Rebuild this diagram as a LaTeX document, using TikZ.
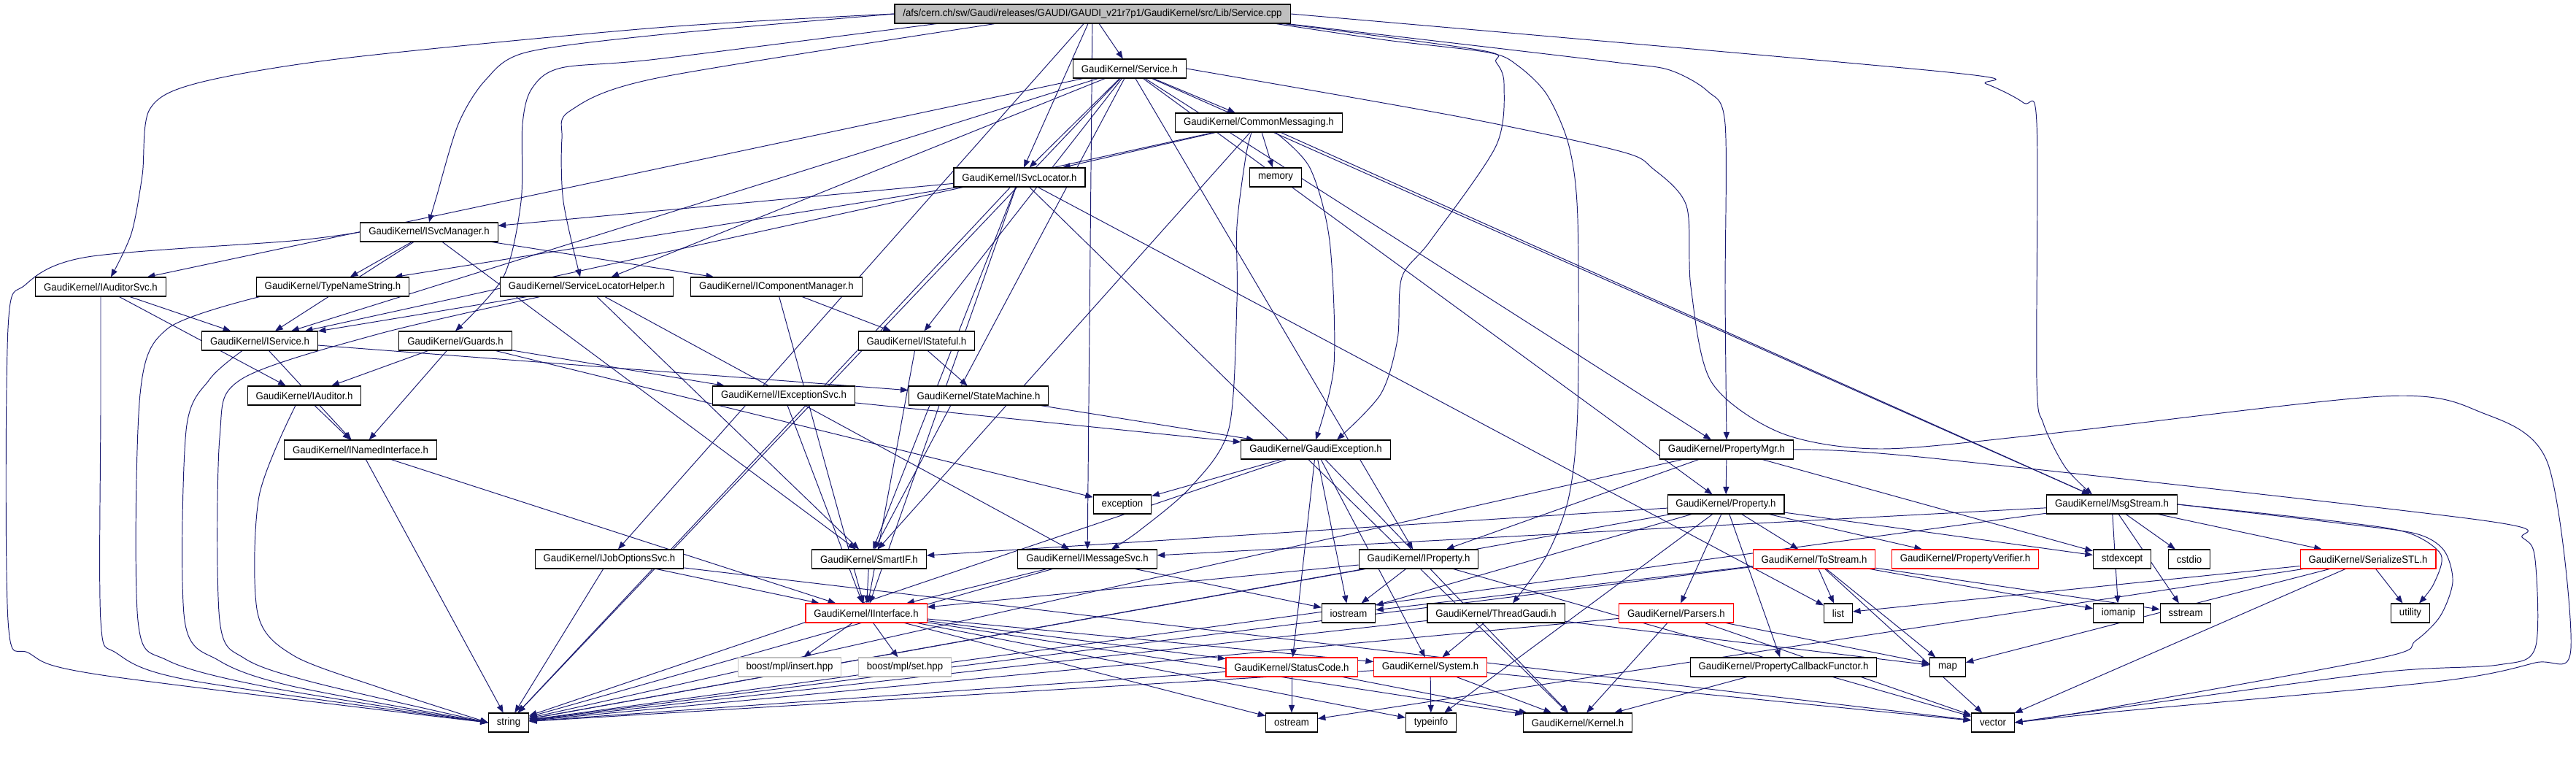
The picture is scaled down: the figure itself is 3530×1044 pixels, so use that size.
\documentclass[tikz,border=0pt]{standalone}
\usepackage{fontspec}
\setmainfont{Liberation Sans}[FakeStretch=0.94]
\usetikzlibrary{arrows.meta,calc,backgrounds}
\definecolor{depblue}{HTML}{191970}
\definecolor{rootgray}{HTML}{BFBFBF}

\begin{document}
\begin{tikzpicture}[
    x=0.02cm, y=-0.02cm,
    font=\fontsize{8}{9}\selectfont,
    % Node styles
    file/.style={draw=black, line width=0.6pt, fill=white, inner xsep=6.5pt, inner ysep=0pt, minimum height=14.8pt},
    rootfile/.style={file, fill=rootgray},
    trunc/.style={file, draw=red},
    ext/.style={file, draw=rootgray},
    dep/.style={draw=depblue, line width=0.55pt, -{Triangle[length=6pt,width=4.6pt]}},
]
    \useasboundingbox (0,0) rectangle (3530,1044);

    % Top rows
    \node[rootfile] (R) at (1497,19) {/afs/cern.ch/sw/Gaudi/releases/GAUDI/GAUDI\_v21r7p1/GaudiKernel/src/Lib/Service.cpp};
    \node[file] (S) at (1548,94) {GaudiKernel/Service.h};
    \node[file] (CM) at (1725,168) {GaudiKernel/CommonMessaging.h};
    \node[file] (SL) at (1397,243) {GaudiKernel/ISvcLocator.h};
    \node[file] (MEM) at (1748,243) {memory};
    \node[file] (SM) at (588,318) {GaudiKernel/ISvcManager.h};
    \node[file] (AS) at (138,393) {GaudiKernel/IAuditorSvc.h};
    \node[file] (TN) at (456,393) {GaudiKernel/TypeNameString.h};
    \node[file] (SLH) at (804,393) {GaudiKernel/ServiceLocatorHelper.h};
    \node[file] (CMG) at (1064,393) {GaudiKernel/IComponentManager.h};
    \node[file] (ISV) at (356,467) {GaudiKernel/IService.h};
    \node[file] (GD) at (624,467) {GaudiKernel/Guards.h};
    \node[file] (ST) at (1256,467) {GaudiKernel/IStateful.h};
    \node[file] (AU) at (417,542) {GaudiKernel/IAuditor.h};
    \node[file] (ES) at (1074,542) {GaudiKernel/IExceptionSvc.h};
    \node[file] (SMC) at (1341,542) {GaudiKernel/StateMachine.h};
    \node[file] (NI) at (494,616) {GaudiKernel/INamedInterface.h};
    \node[file] (GE) at (1803,616) {GaudiKernel/GaudiException.h};
    \node[file] (PM) at (2366,616) {GaudiKernel/PropertyMgr.h};
    \node[file] (EXC) at (1538,691) {exception};
    \node[file] (PR) at (2365,691) {GaudiKernel/Property.h};
    \node[file] (MS) at (2894,691) {GaudiKernel/MsgStream.h};

    % Middle rows
    \node[file] (JO) at (835,766) {GaudiKernel/IJobOptionsSvc.h};
    \node[file] (SIF) at (1191,766) {GaudiKernel/SmartIF.h};
    \node[file] (MSV) at (1490,766) {GaudiKernel/IMessageSvc.h};
    \node[file] (IPR) at (1944,766) {GaudiKernel/IProperty.h};
    \node[trunc] (TS) at (2486,766) {GaudiKernel/ToStream.h};
    \node[trunc] (PV) at (2693,766) {GaudiKernel/PropertyVerifier.h};
    \node[file] (SDE) at (2908,766) {stdexcept};
    \node[file] (CSD) at (3000,766) {cstdio};
    \node[trunc] (SER) at (3245,766) {GaudiKernel/SerializeSTL.h};
    \node[trunc] (II) at (1187,840) {GaudiKernel/IInterface.h};
    \node[file] (IOS) at (1848,840) {iostream};
    \node[file] (TG) at (2050,840) {GaudiKernel/ThreadGaudi.h};
    \node[trunc] (PAR) at (2297,840) {GaudiKernel/Parsers.h};
    \node[file] (LST) at (2519,840) {list};
    \node[file] (IOM) at (2903,840) {iomanip};
    \node[file] (SST) at (2995,840) {sstream};
    \node[file] (UTL) at (3303,840) {utility};

    % Bottom rows
    \node[ext] (BI) at (1082,914) {boost/mpl/insert.hpp};
    \node[ext] (BS) at (1240,914) {boost/mpl/set.hpp};
    \node[trunc] (SC) at (1770,914) {GaudiKernel/StatusCode.h};
    \node[trunc] (SYS) at (1960,914) {GaudiKernel/System.h};
    \node[file] (PCF) at (2444,914) {GaudiKernel/PropertyCallbackFunctor.h};
    \node[file] (MAP) at (2669,914) {map};
    \node[file] (STR) at (697,990) {string};
    \node[file] (OST) at (1770,990) {ostream};
    \node[file] (TI) at (1961,990) {typeinfo};
    \node[file] (KER) at (2162,990) {GaudiKernel/Kernel.h};
    \node[file] (VEC) at (2731,990) {vector};

    \begin{scope}[on background layer]
    % Direct includes
    \foreach \a/\b in {R/S, R/SL, R/JO, R/MSV,
        S/ISV, S/SL, S/SLH, S/AS, S/CM, S/ST, S/SIF, S/IPR, S/PM, S/PR, S/STR, S/MS,
        CM/SL, CM/MEM, CM/ISV, CM/MS, CM/SIF,
        SL/SM, SL/TN, SL/II, SL/SIF, SL/STR, SL/LST, SL/KER,
        SM/CMG, SM/TN, SM/ISV, SM/SIF,
        AS/ISV, AS/AU, SLH/ISV, SLH/SIF, SLH/MSV,
        ISV/NI, ISV/SMC, GD/AU, GD/NI, GD/ES, GD/EXC,
        CMG/ST, CMG/II, ST/SMC, ST/II, AU/NI, ES/GE, ES/II, SMC/GE,
        NI/II, NI/STR, GE/EXC, GE/STR, GE/IOS, GE/SC, GE/SYS, GE/KER,
        JO/II, JO/STR, JO/VEC, SIF/II, MSV/II, MSV/STR, MSV/IOS,
        IPR/II, IPR/STR, IPR/IOS, IPR/VEC,
        PM/PR, PM/IPR, PM/STR, PM/SDE,
        PR/SIF, PR/STR, PR/IOS, PR/TS, PR/PV, PR/PAR, PR/PCF, PR/TI, PR/SDE,
        TS/IOS, TS/STR, TS/LST, TS/MAP, TS/VEC, TS/IOM, TS/SST,
        SER/MAP, SER/VEC, SER/UTL, SER/LST, SER/OST,
        MS/MSV, MS/SER, MS/IOM, MS/SST, MS/CSD, MS/STR,
        II/BI, II/BS, II/SC, II/KER, II/SYS, II/OST, II/TI,
        SC/OST, SC/STR, SC/KER, SYS/TI, SYS/KER, SYS/STR, SYS/VEC,
        TG/SYS, TG/MAP, TG/STR, PAR/STR, PAR/MAP, PAR/VEC, PAR/KER, PCF/KER}
        \draw[dep] (\a) -- (\b);

    % Long routes on the left
    \draw[dep] plot[smooth] coordinates {(R.west) (900,38) (470,80) (270,114) (205,150) (195,240) (180,320) ($(AS.north)+(14,0)$)};
    \draw[dep] plot[smooth] coordinates {(R.west) (900,48) (720,72) (665,110) (628,170) (598,270) (SM.north)};
    \draw[dep] plot[smooth] coordinates {($(R.south west)+(58,0)$) (900,81) (769,93) (729,121) (716,170) (714,276) (690,379) (GD.north)};
    \draw[dep] plot[smooth] coordinates {($(R.south west)+(138,0)$) (900,107) (781,152) (770,190) (772,276) ($(SLH.north)+(-9,0)$)};
    \draw[dep] plot[smooth] coordinates {(SM.west) (400,330) (120,352) (35,390) (11,450) (11,850) (40,895) (140,925) (STR.west)};
    \draw[dep] plot[smooth] coordinates {(AS.south) (138,560) (138,850) (160,895) (260,932) (STR.west)};
    \draw[dep] plot[smooth] coordinates {($(TN.south)+(-100,0)$) (230,450) (192,540) (189,850) (230,905) (370,942) (STR.west)};
    \draw[dep] plot[smooth] coordinates {($(ISV.south)+(-24,0)$) (287,520) (255,590) (253,850) (300,905) (400,940) (STR.west)};
    \draw[dep] plot[smooth] coordinates {($(SLH.south)+(-64,0)$) (517,458) (330,520) (301,600) (301,850) (335,902) (430,935) (STR.west)};
    \draw[dep] plot[smooth] coordinates {($(AU.south)+(-12,0)$) (355,680) (353,840) (402,898) (520,942) (STR.west)};

    % Long routes on the right
    \draw[dep] plot[smooth] coordinates {($(CM.south)+(23,0)$) (1795,230) (1822,330) (1828,500) (GE.north)};
    \draw[dep] plot[smooth] coordinates {($(CM.south)+(-10,0)$) (1707,215) (1695,310) (1695,413) (1684,587) (1632,667) (1560,728) ($(MSV.north)+(33,0)$)};
    \draw[dep] plot[smooth] coordinates {($(R.south east)+(-10,0)$) (2030,69) (2050,85) (2061,115) (2050,200) (1960,330) (1921,380) (1915,465) (1892,540) ($(GE.north)+(29,0)$)};
    \draw[dep] plot[smooth] coordinates {($(R.south east)+(-5,0)$) (2000,60) (2219,86) (2288,96) (2340,125) (2364,170) (2364,400) (PM.north)};
    \draw[dep] plot[smooth] coordinates {($(R.south east)+(-20,0)$) (1900,55) (2040,72) (2080,90) (2120,130) (2150,200) (2162,300) (2162,560) (2150,680) (2120,760) ($(TG.north)+(23,0)$)};
    \draw[dep] plot[smooth] coordinates {(R.east) (2660,98) (2722,115) (2773,141) (2791,169) (2791,520) (2800,580) (2830,640) ($(MS.north)+(-27,0)$)};
    \draw[dep] plot[smooth] coordinates {(S.east) (2000,160) (2219,207) (2265,231) (2311,282) (2317,393) (2345,523) (2440,593) (2575,615) (2800,595) (3264,543) (3400,565) (3491,634) (3523,888) (3474,908) (3338,934) (2900,975) (VEC.east)};
    \draw[dep] plot[smooth] coordinates {(PM.east) (2640,627) (3395,712) (3457,737) (3474,767) (3474,888) (3423,911) (3264,921) (2900,970) (VEC.east)};
    \draw[dep] plot[smooth] coordinates {(MS.east) (3207,717) (3310,731) (3349,754) (3361,797) (3344,844) (3310,878) (3264,901) (2900,968) (VEC.east)};
    \draw[dep] plot[smooth] coordinates {(MS.east) (3207,715) (3300,730) (3345,760) (3335,800) ($(UTL.north)+(12,0)$)};
    \end{scope}

\end{tikzpicture}
\end{document}
